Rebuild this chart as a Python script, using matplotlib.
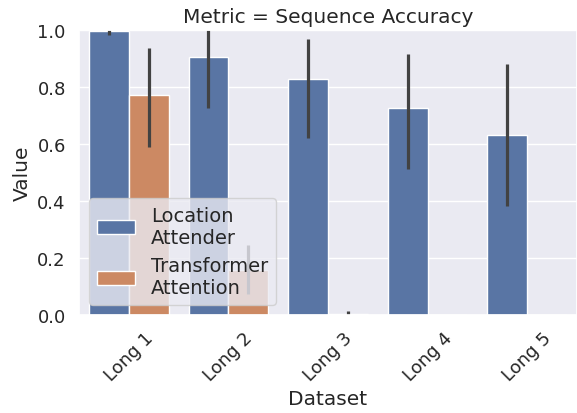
import matplotlib
matplotlib.use("Agg")
import matplotlib.pyplot as plt
import numpy as np
import seaborn as sns

sns.set_theme(style="darkgrid")
plt.rcParams['font.family'] = ['DejaVu Sans']

datasets = ["Long 1", "Long 2", "Long 3", "Long 4", "Long 5"]
series = ["Location\nAttender", "Transformer\nAttention"]
loc_mean = [0.997, 0.904, 0.829, 0.727, 0.633]
loc_lo = [0.983, 0.726, 0.622, 0.514, 0.382]
loc_hi = [1.000, 1.000, 0.970, 0.915, 0.879]
tr_mean = [0.772, 0.158, 0.004, 0.0, 0.0]
tr_lo = [0.589, 0.074, 0.0, 0.0, 0.0]
tr_hi = [0.937, 0.246, 0.015, 0.0, 0.0]

palette = sns.color_palette("deep")
colors = [sns.desaturate(palette[0], 0.75), sns.desaturate(palette[1], 0.75)]

fig = plt.figure(figsize=(5.77, 4.14), dpi=100)
ax = fig.add_axes([79/577, 98/414, 498/577, 285/414])

x = np.arange(len(datasets))
w = 0.4
means = [loc_mean, tr_mean]
los = [loc_lo, tr_lo]
his = [loc_hi, tr_hi]
for i, (lab, m, lo, hi) in enumerate(zip(series, means, los, his)):
    pos = x - 0.2 + i * w
    ax.bar(pos, m, width=w, color=colors[i], edgecolor="white", linewidth=1, label=lab)
    ax.vlines(pos, lo, hi, color=(0.26, 0.26, 0.26), linewidth=2.3)

ax.set_xlim(-0.5, len(datasets) - 0.5)
ax.set_ylim(0, 1.0)
ax.xaxis.grid(False)
ax.set_xticks(x)
ax.set_xticklabels(datasets, rotation=45, ha="center", fontsize=13)
ax.set_yticks([0, 0.2, 0.4, 0.6, 0.8, 1.0])
ax.set_yticklabels(["0.0", "0.2", "0.4", "0.6", "0.8", "1.0"], fontsize=13)
ax.set_xlabel("Dataset", fontsize=14.5)
ax.set_ylabel("Value", fontsize=14.5)
ax.set_title("Metric = Sequence Accuracy", fontsize=14.5)
ax.legend(loc="lower left", fontsize=14)

fig.savefig("out.png", dpi=100)
